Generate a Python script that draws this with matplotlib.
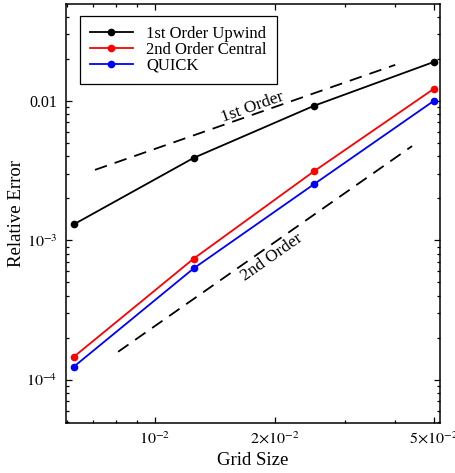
import numpy as np
import matplotlib
matplotlib.use("Agg")
import matplotlib.pyplot as plt
from matplotlib.ticker import FixedLocator, FixedFormatter, LogLocator, NullFormatter

# =========================
# data
# =========================
grid_size = [0.00625, 0.0125, 0.025, 0.05]
err_upwind = [1.30e-3, 3.9e-3, 9.2e-3, 1.9e-2]
err_central = [1.46e-4, 7.4e-4, 3.12e-3, 1.22e-2]
err_quick = [1.24e-4, 6.3e-4, 2.52e-3, 1.0e-2]

# reference slope lines
ref1_x = [0.00707, 0.040]
ref1_y = [3.2e-3, 1.81e-2]
ref2_x = [0.00808, 0.0441]
ref2_y = [1.59e-4, 4.74e-3]

xticks = [1e-2, 2e-2, 5e-2]
xtick_labels = [r"$10^{-2}$", r"$2{\times}10^{-2}$", r"$5{\times}10^{-2}$"]
yticks = [1e-4, 1e-3, 1e-2]
ytick_labels = [r"$10^{-4}$", r"$10^{-3}$", "0.01"]

plt.rcParams["font.family"] = ["Liberation Serif", "DejaVu Serif"]
plt.rcParams["mathtext.fontset"] = "stix"

fig = plt.figure(figsize=(4.55, 4.73), dpi=100)
ax = fig.add_axes([0.145, 0.106, 0.822, 0.886])

ax.plot(grid_size, err_upwind, "-o", color="black", lw=1.3, ms=4.5,
        label="1st Order Upwind")
ax.plot(grid_size, err_central, "-o", color="red", lw=1.3, ms=4.5,
        label="2nd Order Central")
ax.plot(grid_size, err_quick, "-o", color="blue", lw=1.3, ms=4.5,
        label="QUICK")

ax.plot(ref1_x, ref1_y, color="black", lw=1.3, dashes=(7, 4.5))
ax.plot(ref2_x, ref2_y, color="black", lw=1.3, dashes=(7, 4.5))

ax.text(0.0175, 9.0e-3, "1st Order", rotation=19.6, fontsize=12.5,
        ha="center", va="center")
ax.text(0.0196, 7.5e-4, "2nd Order", rotation=35, fontsize=12.5,
        ha="center", va="center")

ax.set_xscale("log")
ax.set_yscale("log")
ax.set_xlim(0.00598, 0.0518)
ax.set_ylim(4.92e-5, 0.0496)

ax.xaxis.set_major_locator(FixedLocator(xticks))
ax.xaxis.set_major_formatter(FixedFormatter(xtick_labels))
ax.xaxis.set_minor_locator(LogLocator(base=10, subs=np.arange(2, 10)))
ax.xaxis.set_minor_formatter(NullFormatter())
ax.yaxis.set_major_locator(FixedLocator(yticks))
ax.yaxis.set_major_formatter(FixedFormatter(ytick_labels))
ax.yaxis.set_minor_locator(LogLocator(base=10, subs=np.arange(2, 10)))
ax.yaxis.set_minor_formatter(NullFormatter())

ax.tick_params(which="both", direction="in", top=True, right=True,
               labelsize=11.5, width=0.9)
ax.tick_params(which="major", length=4.5, pad=6)
ax.tick_params(which="minor", length=2.5)
for s in ax.spines.values():
    s.set_linewidth(1.1)

ax.set_xlabel("Grid Size", fontsize=13.5, labelpad=3)
ax.set_ylabel("Relative Error", fontsize=13.5, labelpad=1)

leg = ax.legend(loc="upper left", bbox_to_anchor=(0.037, 0.971),
                borderaxespad=0, fontsize=12, fancybox=False, framealpha=1,
                edgecolor="black", handlelength=2.6, borderpad=0.6,
                labelspacing=0.0)
leg.get_frame().set_linewidth(0.9)

plt.savefig("out.png", dpi=100)
plt.close()
